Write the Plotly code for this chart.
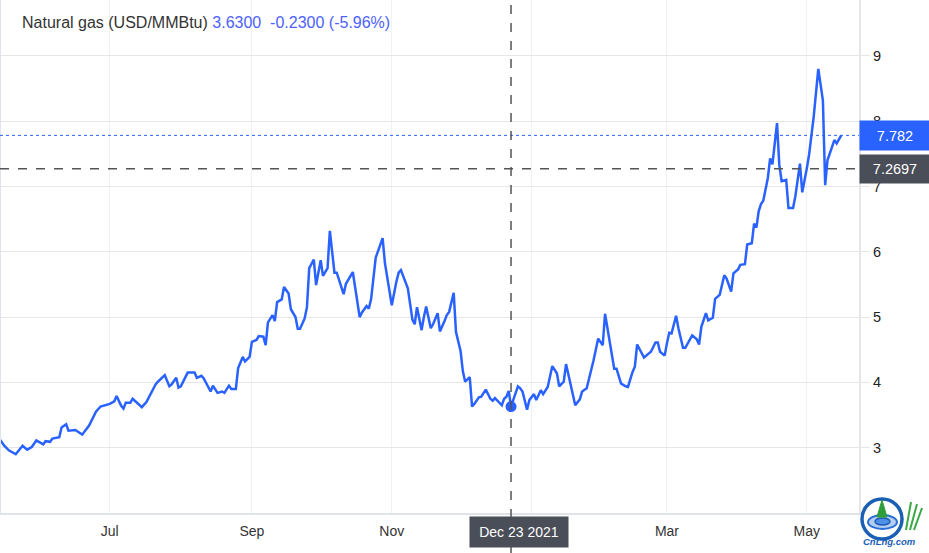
import plotly.graph_objects as go

# ---- data ----
dates = [
    "2021-05-14", "2021-05-16", "2021-05-18", "2021-05-21", "2021-05-24", "2021-05-26", "2021-05-28", "2021-05-30",
    "2021-06-02", "2021-06-03", "2021-06-05", "2021-06-06", "2021-06-09", "2021-06-10", "2021-06-12", "2021-06-13",
    "2021-06-16", "2021-06-19", "2021-06-22", "2021-06-25", "2021-06-27",
    "2021-07-01", "2021-07-03", "2021-07-04", "2021-07-06", "2021-07-07", "2021-07-08", "2021-07-10", "2021-07-11",
    "2021-07-13", "2021-07-15", "2021-07-17", "2021-07-21", "2021-07-22", "2021-07-25", "2021-07-27", "2021-07-28",
    "2021-07-30", "2021-07-31",
    "2021-08-01", "2021-08-04", "2021-08-07", "2021-08-08", "2021-08-10", "2021-08-11", "2021-08-14", "2021-08-15",
    "2021-08-17", "2021-08-19", "2021-08-20", "2021-08-22", "2021-08-23", "2021-08-25", "2021-08-26", "2021-08-28",
    "2021-08-29", "2021-08-31",
    "2021-09-01", "2021-09-03", "2021-09-04", "2021-09-06", "2021-09-07", "2021-09-08", "2021-09-10", "2021-09-11",
    "2021-09-12", "2021-09-14", "2021-09-15", "2021-09-17", "2021-09-18", "2021-09-20", "2021-09-21", "2021-09-22",
    "2021-09-24", "2021-09-25", "2021-09-26", "2021-09-28", "2021-09-29",
    "2021-10-01", "2021-10-02", "2021-10-04", "2021-10-05", "2021-10-07", "2021-10-08", "2021-10-09", "2021-10-11",
    "2021-10-12", "2021-10-15", "2021-10-16", "2021-10-18", "2021-10-19", "2021-10-21", "2021-10-22", "2021-10-23",
    "2021-10-25", "2021-10-26", "2021-10-28", "2021-10-29", "2021-10-31",
    "2021-11-01", "2021-11-03", "2021-11-04", "2021-11-05", "2021-11-07", "2021-11-08", "2021-11-10", "2021-11-11",
    "2021-11-12", "2021-11-14", "2021-11-15", "2021-11-16", "2021-11-18", "2021-11-19", "2021-11-21", "2021-11-22",
    "2021-11-24", "2021-11-25", "2021-11-26", "2021-11-28", "2021-11-29",
    "2021-12-01", "2021-12-02", "2021-12-03", "2021-12-05", "2021-12-06", "2021-12-07", "2021-12-09", "2021-12-10",
    "2021-12-12", "2021-12-14", "2021-12-15", "2021-12-16", "2021-12-17", "2021-12-19", "2021-12-20", "2021-12-21",
    "2021-12-22", "2021-12-23", "2021-12-26", "2021-12-27", "2021-12-28", "2021-12-30", "2021-12-31",
    "2022-01-02", "2022-01-03", "2022-01-05", "2022-01-06", "2022-01-08", "2022-01-10", "2022-01-12", "2022-01-13",
    "2022-01-15", "2022-01-16", "2022-01-18", "2022-01-20", "2022-01-22", "2022-01-23", "2022-01-25", "2022-01-26",
    "2022-01-28", "2022-01-30",
    "2022-02-01", "2022-02-02", "2022-02-04", "2022-02-06", "2022-02-07", "2022-02-09", "2022-02-11", "2022-02-12",
    "2022-02-14", "2022-02-15", "2022-02-16", "2022-02-18", "2022-02-19", "2022-02-21", "2022-02-22", "2022-02-24",
    "2022-02-25", "2022-02-26", "2022-02-28",
    "2022-03-01", "2022-03-02", "2022-03-03", "2022-03-05", "2022-03-06", "2022-03-08", "2022-03-09", "2022-03-12",
    "2022-03-14", "2022-03-15", "2022-03-16", "2022-03-18", "2022-03-19", "2022-03-21", "2022-03-22", "2022-03-24",
    "2022-03-26", "2022-03-27", "2022-03-29", "2022-03-30",
    "2022-04-01", "2022-04-02", "2022-04-04", "2022-04-05", "2022-04-07", "2022-04-08", "2022-04-09", "2022-04-10",
    "2022-04-11", "2022-04-12", "2022-04-14", "2022-04-15", "2022-04-16", "2022-04-18", "2022-04-19", "2022-04-20",
    "2022-04-22", "2022-04-23", "2022-04-25", "2022-04-26", "2022-04-28", "2022-04-29",
    "2022-05-01", "2022-05-02", "2022-05-04", "2022-05-06", "2022-05-08", "2022-05-09", "2022-05-10", "2022-05-12",
    "2022-05-13", "2022-05-14", "2022-05-16",
]

prices = [
    3.13, 3.03, 2.96, 2.90, 3.03, 2.97, 3.01, 3.11,
    3.05, 3.10, 3.09, 3.14, 3.16, 3.31, 3.36, 3.26,
    3.27, 3.20, 3.34, 3.55, 3.63,
    3.67, 3.71, 3.79, 3.64, 3.60, 3.69, 3.69, 3.75,
    3.69, 3.62, 3.70, 3.97, 4.01, 4.11, 3.94, 3.97,
    4.07, 3.92,
    3.94, 4.15, 4.15, 4.07, 4.10, 4.06, 3.86, 3.95,
    3.84, 3.86, 3.84, 3.95, 3.90, 3.90, 4.22, 4.39,
    4.32, 4.39,
    4.62, 4.65, 4.71, 4.70, 4.57, 4.92, 5.03, 4.94,
    5.23, 5.27, 5.46, 5.36, 5.12, 5.00, 4.82, 4.82,
    4.98, 5.15, 5.75, 5.88, 5.49,
    5.87, 5.63, 5.75, 6.32, 5.68, 5.68, 5.58, 5.35,
    5.51, 5.69, 5.46, 5.00, 5.07, 5.17, 5.13, 5.28,
    5.91, 6.00, 6.21, 5.83, 5.42,
    5.18, 5.54, 5.68, 5.72, 5.52, 5.44, 4.96, 4.89,
    5.15, 4.80, 5.00, 5.16, 4.83, 4.89, 5.06, 4.78,
    4.94, 5.03, 5.08, 5.37, 4.77,
    4.48, 4.17, 4.01, 4.08, 3.63, 3.67, 3.77, 3.78,
    3.89, 3.75, 3.72, 3.76, 3.72, 3.65, 3.75, 3.78,
    3.87, 3.63, 3.94, 3.91, 3.86, 3.58, 3.73,
    3.82, 3.73, 3.88, 3.82, 3.93, 4.25, 4.14, 3.94,
    4.01, 4.28, 3.98, 3.65, 3.74, 3.86, 3.91, 4.04,
    4.34, 4.67,
    4.57, 5.05, 4.60, 4.21, 4.21, 3.98, 3.94, 3.93,
    4.16, 4.24, 4.58, 4.43, 4.38, 4.44, 4.47, 4.61,
    4.61, 4.47, 4.41,
    4.60, 4.76, 4.75, 5.02, 4.83, 4.53, 4.53, 4.72,
    4.66, 4.58, 4.85, 5.06, 4.95, 4.99, 5.28, 5.34,
    5.64, 5.59, 5.39, 5.67,
    5.73, 5.80, 5.81, 6.11, 6.13, 6.43, 6.37, 6.62,
    6.73, 6.78, 7.13, 7.43, 7.34, 7.97, 7.33, 7.08,
    7.10, 6.67, 6.67, 6.85, 7.35, 6.91,
    7.28, 7.49, 8.07, 8.80, 8.32, 7.02, 7.40, 7.63,
    7.71, 7.66, 7.782,
]

month_ticks = ["2021-07-01", "2021-09-01", "2021-11-01", "2022-01-01", "2022-03-01", "2022-05-01"]
# the Jan label is hidden under the crosshair date box in the reference
month_labels = ["Jul", "Sep", "Nov", "", "Mar", "May"]
y_ticks = [3, 4, 5, 6, 7, 8, 9]

title_name = "Natural gas (USD/MMBtu)"
title_stats = "3.6300&nbsp; -0.2300 (-5.96%)"

cross_date = "2021-12-23"
cross_value = 3.63
cross_label = "Dec 23 2021"
cross_level = 7.2697
last_price = 7.782

# ---- styles ----
BLUE = "#2962ff"
DARK = "#4a4e58"
FONT = "Arial, Liberation Sans, sans-serif"

fig = go.Figure()
fig.add_trace(go.Scatter(x=dates, y=prices, mode="lines",
                         line=dict(color=BLUE, width=2.5), hoverinfo="skip"))
fig.add_trace(go.Scatter(x=[cross_date], y=[cross_value], mode="markers",
                         marker=dict(color=BLUE, size=11), hoverinfo="skip"))

fig.update_layout(
    width=929, height=553,
    margin=dict(l=0, r=70, t=0, b=40),
    plot_bgcolor="white", paper_bgcolor="white",
    showlegend=False,
    font=dict(family=FONT, size=14, color="#333333"),
)

fig.update_xaxes(
    type="date",
    range=["2021-05-14 03:36", "2022-05-23 18:00"],
    tickvals=month_ticks, ticktext=month_labels,
    showgrid=True, gridcolor="#eef1f6", gridwidth=1,
    showline=True, linecolor="#e0e3eb", linewidth=2,
    ticks="outside", ticklen=4, tickcolor="rgba(0,0,0,0)",
    tickfont=dict(size=14, color="#333333"),
    zeroline=False, fixedrange=True,
)
fig.update_yaxes(
    side="right",
    range=[2.0, 9.855],
    tickvals=y_ticks,
    showgrid=True, gridcolor="#e6e6e6", gridwidth=1,
    showline=True, linecolor="#e6e6e6", linewidth=2,
    ticks="outside", ticklen=9, tickcolor="#e6e6e6",
    tickfont=dict(size=14.5, color="#222222"),
    zeroline=False, fixedrange=True,
)

shapes = [
    # left border
    dict(type="line", xref="paper", yref="paper", x0=0, x1=0, y0=0, y1=1,
         line=dict(color="#e0e3eb", width=2)),
    # last price dotted line
    dict(type="line", xref="paper", yref="y", x0=0, x1=1, y0=last_price, y1=last_price,
         line=dict(color=BLUE, width=1, dash="dot")),
    # crosshair horizontal
    dict(type="line", xref="paper", yref="y", x0=0, x1=1, y0=cross_level, y1=cross_level,
         line=dict(color="#555555", width=1.5, dash="dash")),
    # crosshair vertical
    dict(type="line", xref="x", yref="paper", x0=cross_date, x1=cross_date, y0=-0.08, y1=1,
         line=dict(color="#555555", width=1.5, dash="dash")),
]

# small logo (bottom-right corner), in paper coordinates
def px(xp):
    return xp / 859.0

def py(yp):
    return (513.0 - yp) / 513.0

shapes += [
    dict(type="circle", xref="paper", yref="paper",
         x0=px(862), x1=px(902), y0=py(539), y1=py(499),
         line=dict(color="#1a5fb4", width=3.5)),
    dict(type="circle", xref="paper", yref="paper",
         x0=px(868), x1=px(897), y0=py(529), y1=py(515),
         line=dict(color="#2a6fd6", width=2), fillcolor="rgba(42,111,214,0.35)"),
    dict(type="circle", xref="paper", yref="paper",
         x0=px(875), x1=px(890), y0=py(525), y1=py(518),
         line=dict(color="#1a5fb4", width=1.5), fillcolor="#4f8fe8"),
    dict(type="path", xref="paper", yref="paper",
         path=f"M {px(882)} {py(500)} L {px(877)} {py(517)} L {px(887)} {py(517)} Z",
         fillcolor="#2e9d3a", line=dict(color="#2e9d3a", width=1)),
    dict(type="line", xref="paper", yref="paper", x0=px(906), y0=py(530), x1=px(911), y1=py(502),
         line=dict(color="#3aa845", width=2)),
    dict(type="line", xref="paper", yref="paper", x0=px(910), y0=py(530), x1=px(917), y1=py(504),
         line=dict(color="#3aa845", width=2)),
    dict(type="line", xref="paper", yref="paper", x0=px(914), y0=py(530), x1=px(922), y1=py(508),
         line=dict(color="#3aa845", width=2)),
]
fig.update_layout(shapes=shapes)

annotations = [
    dict(xref="paper", yref="paper", x=20 / 859, y=1, xanchor="left", yanchor="top", yshift=-12,
         text=f"<span style='color:#333333'>{title_name}</span> <span style='color:#4d61fc'>{title_stats}</span>",
         showarrow=False, font=dict(size=16, family=FONT)),
    dict(xref="paper", yref="y", x=1, y=last_price, xanchor="left", yanchor="middle",
         text=f"{last_price:.3f}", showarrow=False, bgcolor=BLUE,
         width=70, height=29, borderpad=0, align="center",
         font=dict(size=14.5, color="white", family=FONT)),
    dict(xref="paper", yref="y", x=1, y=cross_level, xanchor="left", yanchor="middle",
         text=f"{cross_level:.4f}", showarrow=False, bgcolor=DARK,
         width=70, height=28, borderpad=0, align="center",
         font=dict(size=14.5, color="white", family=FONT)),
    dict(xref="x", yref="paper", x=cross_date, y=0, xanchor="center", yanchor="top",
         yshift=-3, xshift=8,
         text=cross_label, showarrow=False, bgcolor=DARK,
         width=98, height=30, borderpad=0, align="center",
         font=dict(size=14, color="white", family=FONT)),
    dict(xref="paper", yref="paper", x=px(890), y=py(541), xanchor="center", yanchor="middle",
         text="<b><i>CnLng.com</i></b>", showarrow=False,
         font=dict(size=9.5, color="#1a5fb4", family=FONT)),
]
fig.update_layout(annotations=annotations)

# remove the default 8px page margin so the figure fills the window exactly
fig.write_html("out.html", config={"displayModeBar": False},
               post_script="document.body.style.margin='0';")
